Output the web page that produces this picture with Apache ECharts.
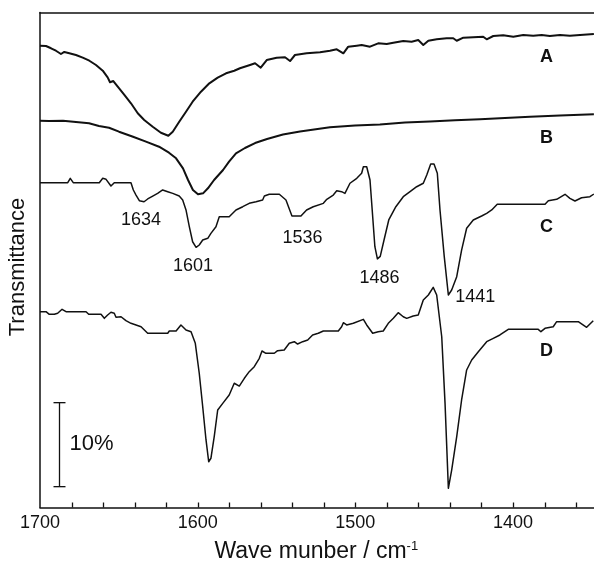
<!DOCTYPE html>
<html>
<head>
<meta charset="utf-8">
<script src="https://cdn.jsdelivr.net/npm/echarts@6/dist/echarts.min.js"></script>
<style>
  html, body { margin: 0; padding: 0; background: #fff; }
  #chart { width: 594px; height: 563px; }
</style>
</head>
<body>
<div id="chart"></div>
<script>
// IR spectra, [wavenumber (cm-1), transmittance offset (%)]
const spectrumA = [
  [1700.0,54.98],[1696.2,54.94],[1693.0,54.67],[1689.9,54.38],[1686.7,53.99],[1684.6,54.23],
  [1681.4,54.07],[1677.2,53.87],[1672.9,53.55],[1668.7,53.19],[1664.5,52.68],[1660.2,52.00],
  [1657.1,51.21],[1655.6,50.62],[1653.5,50.77],[1650.7,50.10],[1646.5,49.11],[1642.3,48.12],
  [1638.0,46.93],[1633.9,46.13],[1628.5,45.33],[1623.3,44.62],[1618.6,44.26],[1615.8,44.74],
  [1611.7,45.93],[1607.4,47.12],[1603.2,48.31],[1597.9,49.50],[1592.6,50.50],[1587.3,51.17],
  [1582.0,51.69],[1576.8,52.00],[1573.2,52.29],[1566.8,52.68],[1563.6,52.88],[1560.0,52.36],
  [1556.2,53.27],[1549.9,53.55],[1544.6,53.60],[1541.4,53.15],[1538.3,53.87],[1530.9,54.07],
  [1522.4,54.19],[1516.1,54.38],[1511.8,54.55],[1507.6,54.07],[1504.5,54.86],[1499.1,54.98],
  [1496.0,55.06],[1490.7,54.86],[1485.5,55.26],[1480.1,55.18],[1475.9,55.33],[1469.6,55.54],
  [1464.3,55.45],[1460.1,55.65],[1456.9,55.06],[1453.7,55.57],[1448.4,55.74],[1442.1,55.86],
  [1437.9,55.86],[1435.7,55.57],[1431.5,55.93],[1425.2,55.98],[1418.9,56.05],[1416.7,55.74],
  [1412.5,56.13],[1406.2,56.21],[1399.8,56.05],[1393.5,56.25],[1387.2,56.17],[1381.8,56.25],
  [1376.6,56.13],[1370.2,56.25],[1363.9,56.17],[1357.5,56.25],[1348.7,56.37]
];

const spectrumB = [
  [1700.0,46.05],[1694.3,46.01],[1685.4,46.05],[1677.2,45.89],[1668.9,45.74],[1662.6,45.42],
  [1656.2,45.21],[1649.9,44.74],[1641.0,44.14],[1632.8,43.55],[1624.5,42.95],[1618.2,42.24],
  [1613.7,41.57],[1609.3,40.38],[1606.1,38.99],[1603.0,37.80],[1599.8,37.29],[1596.6,37.40],
  [1593.5,38.00],[1589.6,38.99],[1583.9,40.18],[1580.1,41.17],[1575.7,42.17],[1570.0,42.80],
  [1563.6,43.39],[1556.0,43.87],[1545.9,44.40],[1535.1,44.76],[1516.1,45.26],[1500.2,45.48],
  [1484.4,45.60],[1468.5,45.83],[1452.7,45.95],[1436.8,46.10],[1420.9,46.21],[1405.1,46.37],
  [1389.2,46.52],[1370.2,46.67],[1348.7,46.81]
];

const spectrumC = [
  [1700.0,38.67],[1682.4,38.67],[1680.8,39.19],[1678.9,38.67],[1662.4,38.67],[1660.2,39.19],
  [1658.1,39.07],[1655.0,38.27],[1652.9,38.67],[1642.3,38.67],[1640.8,37.80],[1639.1,37.20],
  [1637.0,36.52],[1634.0,36.40],[1631.7,36.73],[1628.5,37.08],[1625.4,37.40],[1622.2,37.80],
  [1619.0,37.60],[1615.8,37.40],[1611.7,37.08],[1609.5,36.61],[1607.4,35.42],[1605.3,33.43],
  [1603.2,31.64],[1601.0,30.98],[1599.0,31.25],[1596.8,31.85],[1593.6,32.05],[1591.6,32.64],
  [1588.4,33.43],[1586.3,34.62],[1580.0,34.62],[1575.7,35.42],[1571.4,35.81],[1567.3,36.21],
  [1563.0,36.40],[1558.8,36.61],[1557.7,37.08],[1554.6,37.29],[1548.2,37.29],[1544.0,36.61],
  [1540.2,34.70],[1536.0,34.70],[1534.5,34.70],[1530.9,35.42],[1526.7,35.81],[1520.3,36.21],
  [1518.1,36.69],[1514.0,37.20],[1511.8,37.71],[1508.7,37.60],[1506.6,37.40],[1503.4,38.60],
  [1499.1,39.19],[1496.0,39.79],[1494.9,40.57],[1492.8,40.57],[1490.7,38.99],[1489.3,35.42],
  [1487.6,31.05],[1486.0,29.60],[1484.2,29.90],[1481.8,31.85],[1478.8,34.23],[1474.3,35.81],
  [1469.6,37.00],[1465.3,37.60],[1461.1,38.19],[1456.9,38.60],[1454.7,39.58],[1452.2,40.89],
  [1450.1,40.89],[1448.0,39.79],[1446.3,35.42],[1443.6,29.86],[1441.0,25.30],[1438.9,25.89],
  [1435.7,27.48],[1432.6,30.65],[1429.4,33.24],[1425.2,34.23],[1419.9,34.70],[1416.7,35.02],
  [1413.5,35.42],[1410.0,36.10],[1379.7,36.10],[1377.6,36.52],[1372.3,36.69],[1367.0,37.29],
  [1363.9,36.81],[1360.7,36.49],[1356.5,36.88],[1351.2,37.00],[1348.7,37.32]
];

const spectrumD = [
  [1700.0,23.31],[1696.2,23.31],[1694.1,23.00],[1690.9,23.00],[1688.8,23.12],[1686.0,23.60],
  [1683.5,23.31],[1670.8,23.31],[1669.1,23.00],[1661.3,23.00],[1659.2,22.52],[1657.1,22.92],
  [1655.0,23.24],[1652.9,23.12],[1651.8,22.64],[1648.6,22.71],[1645.5,22.24],[1642.3,21.93],
  [1639.1,21.73],[1635.9,21.52],[1631.7,20.74],[1619.0,20.74],[1618.0,21.01],[1613.7,21.01],
  [1610.6,21.73],[1607.4,21.13],[1604.2,20.93],[1601.5,19.55],[1599.0,15.98],[1596.8,12.00],
  [1594.7,8.04],[1593.0,5.45],[1591.6,5.86],[1589.5,8.43],[1587.3,11.61],[1584.1,12.40],
  [1580.0,13.39],[1576.8,14.79],[1573.6,14.46],[1570.4,15.38],[1567.3,16.17],[1564.1,16.76],
  [1560.9,17.76],[1559.2,18.63],[1556.7,18.36],[1551.4,18.36],[1549.3,18.67],[1545.1,18.75],
  [1541.9,19.55],[1538.7,19.74],[1536.6,19.46],[1533.4,19.74],[1530.2,19.94],[1527.1,20.54],
  [1523.5,20.74],[1520.3,21.01],[1510.8,21.01],[1508.7,21.52],[1507.6,22.00],[1505.5,21.73],
  [1501.3,21.93],[1494.9,22.40],[1492.8,21.73],[1489.0,20.74],[1485.5,20.93],[1482.3,21.01],
  [1479.1,21.93],[1475.9,22.52],[1472.8,23.19],[1469.6,22.71],[1467.4,22.52],[1463.3,22.80],
  [1460.1,22.92],[1456.9,24.70],[1453.7,25.30],[1450.6,26.21],[1448.4,25.30],[1445.2,20.33],
  [1443.1,12.40],[1441.0,2.29],[1438.9,4.46],[1435.7,8.43],[1432.6,12.80],[1429.4,16.37],
  [1426.2,17.56],[1422.0,18.55],[1416.7,19.74],[1412.5,20.14],[1408.3,20.54],[1403.0,21.21],
  [1384.0,21.21],[1382.3,20.93],[1379.7,21.33],[1374.5,21.52],[1372.3,22.12],[1358.6,22.12],
  [1353.3,21.45],[1349.1,22.24]
];

// band positions annotated on spectrum C (cm-1)
const peakLabels = [1634, 1601, 1536, 1486, 1441];
// axis range and tick values
const xRange = [1340, 1700];
const xTickStep = 20;
const xLabelValues = [1700, 1600, 1500, 1400];
const yRange = [0, 58.93];
const seriesNames = ['A', 'B', 'C', 'D'];
// vertical scale bar
const scaleBar = { x: 1688.1, base: 2.48, span: 10, text: '10%' };

const FONT = 'Liberation Sans, Arial, Helvetica, sans-serif';
const INK = '#111';

// pixel offsets of each band label from its band minimum
const peakLabelOffsets = [[-3, 18], [-3, 19], [4, 22], [2, 19], [27, 2]];

function nearestValue(data, wn) {
  let best = data[0];
  for (const p of data) if (Math.abs(p[0] - wn) < Math.abs(best[0] - wn)) best = p;
  return best[1];
}

// tick positions every xTickStep across the axis range, sitting on the x axis
const tickPoints = [];
for (let v = xRange[1] - xTickStep; v > xRange[0]; v -= xTickStep) tickPoints.push([v, yRange[0]]);

const chart = echarts.init(document.getElementById('chart'), null, { renderer: 'canvas' });

function lineSeries(name, data, width, extra) {
  return Object.assign({
    name: name,
    type: 'line',
    data: data,
    showSymbol: false,
    symbol: 'none',
    smooth: false,
    clip: true,
    lineStyle: { color: INK, width: width, join: 'round' },
    emphasis: { disabled: true },
    z: 3
  }, extra || {});
}

// the plotted range ends at about 1349 cm-1, which falls on the right edge
// of the canvas; the axis continues to 1340 just outside it
const option = {
  animation: false,
  backgroundColor: '#fff',
  grid: {
    left: 40, right: -13.6, top: 12.5, bottom: 55.5,
    containLabel: false, outerBoundsMode: 'none'
  },
  xAxis: [{
    type: 'value',
    inverse: true,
    min: xRange[0],
    max: xRange[1],
    interval: xTickStep,
    name: 'Wave munber / cm{sup|-1}',
    nameLocation: 'middle',
    nameGap: 32,
    nameTextStyle: {
      color: INK, fontFamily: FONT, fontSize: 23, padding: [0, 15, 0, 0],
      rich: { sup: { fontSize: 13, verticalAlign: 'top', color: INK, fontFamily: FONT, padding: [0, 0, 11, 0] } }
    },
    axisLine: { show: true, onZero: false, lineStyle: { color: INK, width: 1.5 } },
    axisTick: { show: false },
    axisLabel: {
      show: true, color: INK, fontFamily: FONT, fontSize: 18, margin: 7,
      formatter: function (v) { return xLabelValues.indexOf(v) >= 0 ? String(v) : ''; }
    },
    splitLine: { show: false }
  }, {
    type: 'value',
    position: 'top',
    inverse: true,
    min: xRange[0],
    max: xRange[1],
    axisLine: { show: true, onZero: false, lineStyle: { color: INK, width: 1.5 } },
    axisTick: { show: false },
    axisLabel: { show: false },
    splitLine: { show: false }
  }],
  yAxis: {
    type: 'value',
    min: yRange[0],
    max: yRange[1],
    name: 'Transmittance',
    nameLocation: 'middle',
    nameGap: 11,
    nameTextStyle: { color: INK, fontFamily: FONT, fontSize: 22, padding: [0, 14, 0, 0] },
    axisLine: { show: true, onZero: false, lineStyle: { color: INK, width: 1.5 } },
    axisTick: { show: false },
    axisLabel: { show: false },
    splitLine: { show: false }
  },
  series: [
    lineSeries(seriesNames[0], spectrumA, 2),
    lineSeries(seriesNames[1], spectrumB, 2),
    lineSeries(seriesNames[2], spectrumC, 1.5, {
      markPoint: {
        symbol: 'circle',
        symbolSize: 0,
        silent: true,
        itemStyle: { color: 'rgba(0,0,0,0)' },
        label: { show: true, position: 'inside', color: INK, fontFamily: FONT, fontSize: 18, formatter: '{c}' },
        data: peakLabels.map((wn, i) => ({
          coord: [wn, nearestValue(spectrumC, wn)],
          value: wn,
          label: { offset: peakLabelOffsets[i] }
        }))
      }
    }),
    lineSeries(seriesNames[3], spectrumD, 1.5),
    {
      // short inward ticks along the wavenumber axis
      type: 'custom',
      silent: true,
      clip: false,
      encode: { x: 0, y: 1 },
      data: tickPoints,
      renderItem: function (params, api) {
        const p = api.coord([api.value(0), api.value(1)]);
        const x = Math.round(p[0]) + 0.5;
        return {
          type: 'line',
          z2: 10,
          shape: { x1: x, y1: p[1], x2: x, y2: p[1] - 5 },
          style: { stroke: INK, lineWidth: 1.3 }
        };
      },
      z: 6
    },
    {
      // 10 % transmittance scale bar
      type: 'custom',
      silent: true,
      data: [[scaleBar.x, scaleBar.base, scaleBar.base + scaleBar.span]],
      renderItem: function (params, api) {
        const top = api.coord([api.value(0), api.value(2)]);
        const bot = api.coord([api.value(0), api.value(1)]);
        const x = Math.round(top[0]) + 0.5;
        const style = { stroke: INK, lineWidth: 1.3 };
        return {
          type: 'group',
          children: [
            { type: 'line', shape: { x1: x, y1: top[1], x2: x, y2: bot[1] }, style: style },
            { type: 'line', shape: { x1: x - 6, y1: top[1], x2: x + 6, y2: top[1] }, style: style },
            { type: 'line', shape: { x1: x - 6, y1: bot[1], x2: x + 6, y2: bot[1] }, style: style },
            {
              type: 'text',
              style: {
                text: scaleBar.text, x: x + 10, y: (top[1] + bot[1]) / 2 - 1,
                fill: INK, font: '22px ' + FONT, textAlign: 'left', textVerticalAlign: 'middle'
              }
            }
          ]
        };
      }
    }
  ],
  graphic: seriesNames.map((n, i) => ({
    type: 'text',
    left: 540,
    top: [48, 129, 218, 342][i],
    style: { text: n, fill: INK, font: 'bold 18px ' + FONT }
  }))
};

chart.setOption(option);
</script>
</body>
</html>
